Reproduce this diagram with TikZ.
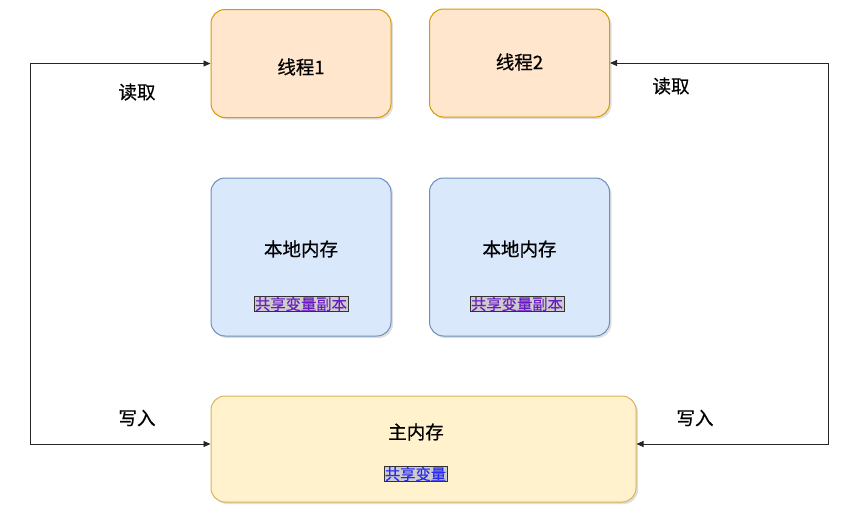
\documentclass[tikz,border=0pt]{standalone}
\usepackage{fontspec}
\setmainfont[FakeBold=0.6]{Noto Sans CJK SC}
\usetikzlibrary{arrows.meta,shadows}
\definecolor{thrfill}{HTML}{FFE6CC}
\definecolor{thrline}{HTML}{D79B00}
\definecolor{locfill}{HTML}{DAE8FC}
\definecolor{locline}{HTML}{6C8EBF}
\definecolor{mainfill}{HTML}{FFF2CC}
\definecolor{mainline}{HTML}{D6B656}
\definecolor{tagfill}{HTML}{CCCCCC}
\definecolor{purpletxt}{HTML}{6A1BC4}
\definecolor{bluetxt}{HTML}{2A2AF5}
\tikzset{
  box/.style={draw, line width=1pt, rounded corners=14pt, inner sep=0pt,
    drop shadow={shadow xshift=2pt, shadow yshift=-2pt, opacity=0.25, fill=gray}},
  thr/.style={box, fill=thrfill, draw=thrline, minimum width=180pt, minimum height=108pt},
  loc/.style={box, fill=locfill, draw=locline, minimum width=180pt, minimum height=158pt},
  mem/.style={box, fill=mainfill, draw=mainline, minimum width=425pt, minimum height=106pt},
  txt/.style={font=\fontsize{18.5}{21}\selectfont, text=black},
  tag/.style={draw=black!80, fill=tagfill, line width=0.8pt, inner xsep=1pt, inner ysep=0.5pt, font=\fontsize{15.3}{17}\selectfont},
  conn/.style={draw=black!85, line width=0.9pt, {Triangle[length=7pt,width=6pt]}-{Triangle[length=7pt,width=6pt]}}
}
\begin{document}
\begin{tikzpicture}[x=1pt,y=-1pt]
\useasboundingbox (0,0) rectangle (852,512);
% boxes
\node[thr] (t1) at (301,63.5) {};
\node[thr] (t2) at (519.5,63) {};
\node[loc] (l1) at (301,257) {};
\node[loc] (l2) at (519.5,257) {};
\node[mem] (m) at (423.5,449) {};
% texts
\node[txt] (t1txt) at (301,67) {线程1};
\node[txt] (t2txt) at (519.5,62) {线程2};
\node[txt] (l1txt) at (301,249) {本地内存};
\node[txt] (l2txt) at (519.5,249) {本地内存};
\node[txt] (mtxt) at (416,432) {主内存};
\node[tag, text=purpletxt] (l1tag) at (301,304) {共享变量副本};
\node[tag, text=purpletxt] (l2tag) at (517,304) {共享变量副本};
\node[tag, text=bluetxt] (mtag) at (415.5,474) {共享变量};
% connectors
\coordinate (lx) at (30,0);
\coordinate (rx) at (828,0);
\draw[conn] (t1.west) -- (t1.west -| lx) |- ([yshift=5pt]m.west);
\draw[conn] (t2.east) -- (t2.east -| rx) |- ([yshift=5pt]m.east);
% labels
\node[txt] (r1) at (137,92) {读取};
\node[txt] (w1) at (137,418) {写入};
\node[txt] (r2) at (671,86) {读取};
\node[txt] (w2) at (695,418) {写入};
\end{tikzpicture}
\end{document}
